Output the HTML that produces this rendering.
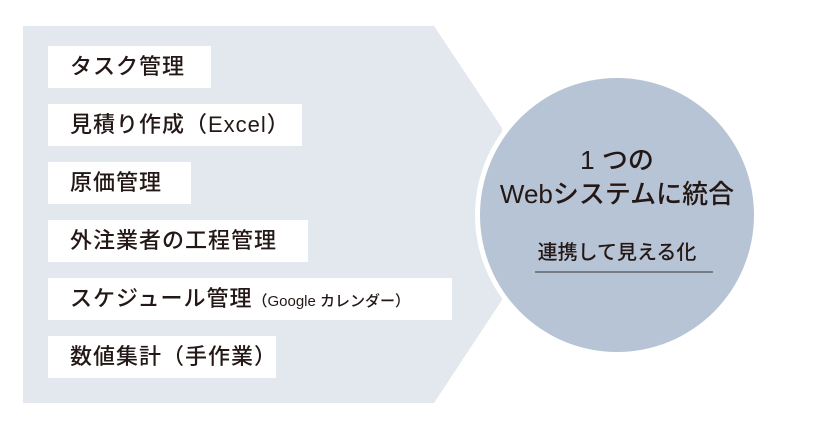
<!DOCTYPE html>
<html><head><meta charset="utf-8"><style>
body{margin:0;width:820px;height:430px;background:#fff;position:relative;overflow:hidden;font-family:"Liberation Sans","Noto Sans CJK JP",sans-serif;color:#231815}
.b{position:absolute;left:48px;height:42px;background:#fff;font-size:22px;letter-spacing:1px;font-weight:500;line-height:42px;padding-left:22px;box-sizing:border-box;white-space:nowrap}
.s{font-size:15px;letter-spacing:0}
</style></head><body>
<svg width="820" height="430" style="position:absolute;left:0;top:0">
<polygon points="23,26 434,26 502,128 502,300 434,403 23,403" fill="#e3e8ef"/>
<circle cx="617" cy="215" r="142" fill="#fff"/>
<circle cx="617" cy="215" r="137" fill="#b7c4d5"/>
<line x1="535" y1="272" x2="713" y2="272" stroke="#333" stroke-width="1"/>
</svg>
<div class="b" style="top:46px;width:163px">タスク管理</div>
<div class="b" style="top:104px;width:254px">見積り作成（Excel）</div>
<div class="b" style="top:162px;width:143px">原価管理</div>
<div class="b" style="top:220px;width:260px">外注業者の工程管理</div>
<div class="b" style="top:278px;width:404px">スケジュール管理<span class="s">（Google カレンダー）</span></div>
<div class="b" style="top:336px;width:228px">数値集計（手作業）</div>
<div style="position:absolute;left:480px;width:274px;top:143px;text-align:center;font-size:26px;line-height:34px;font-weight:500">1 つの<br>Webシステムに統合</div>
<div style="position:absolute;left:480px;width:274px;top:239px;text-align:center;font-size:20px;line-height:28px;font-weight:500">連携して見える化</div>
</body></html>
